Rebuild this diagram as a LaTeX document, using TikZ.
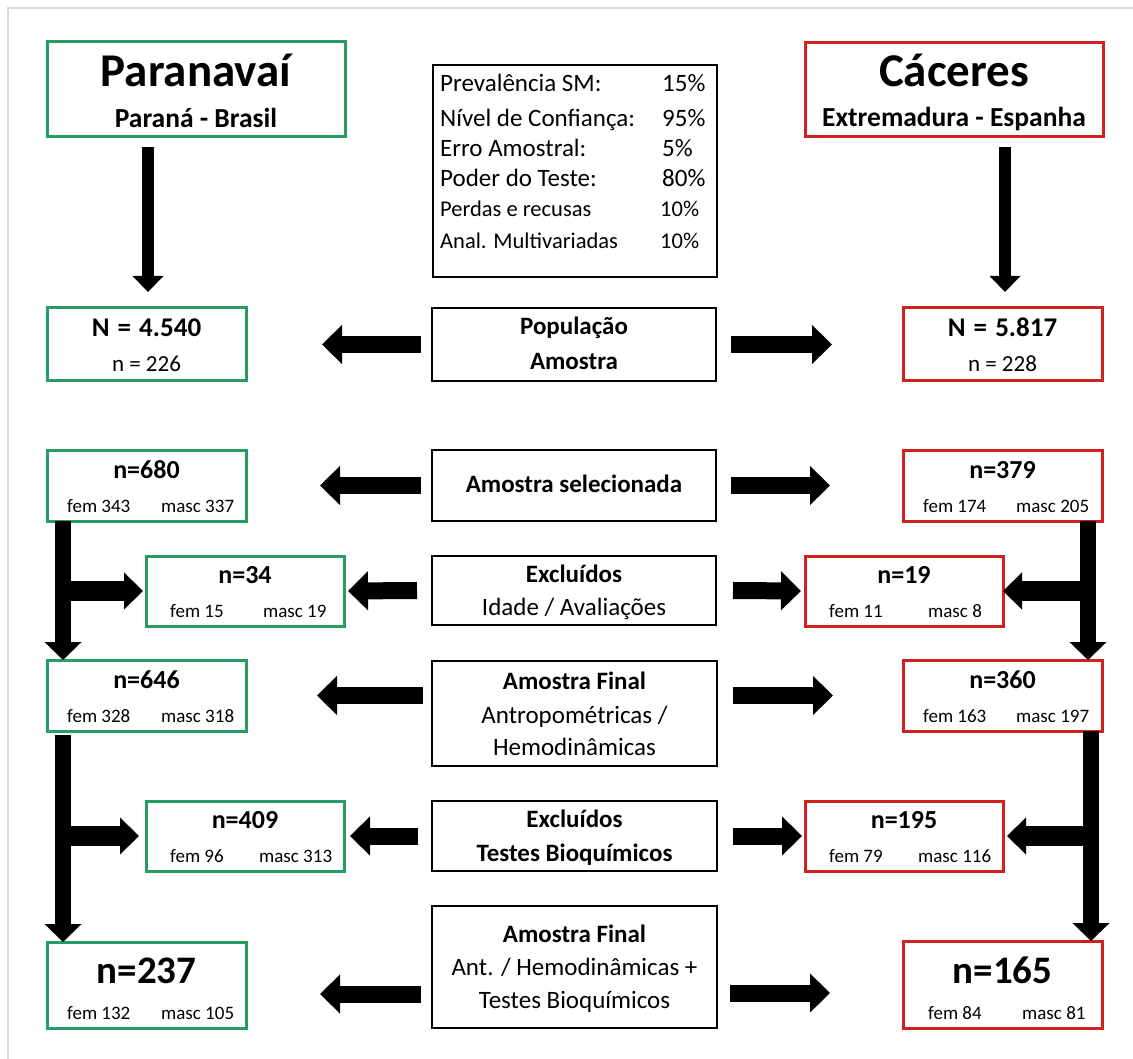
\documentclass[tikz,border=0pt]{standalone}
\usepackage{fontspec}
\setmainfont{Carlito}
\usetikzlibrary{arrows.meta}
\definecolor{grn}{RGB}{36,158,98}
\definecolor{rd}{RGB}{208,32,32}
\newcommand\mybox[6]{\node[#1, minimum width={#4-#2}, minimum height={#5-#3}] (#6) at ({(#2+#4)/2},{(#3+#5)/2}) {};}
\newcommand\wsp{\hspace{0.3em}}
\begin{document}
\begin{tikzpicture}[x=1pt,y=-1pt,
  gbox/.style={draw=grn, line width=3pt, inner sep=0pt, outer sep=0pt},
  rbox/.style={draw=rd, line width=3pt, inner sep=0pt, outer sep=0pt},
  kbox/.style={draw=black, line width=2.5pt, inner sep=0pt, outer sep=0pt},
  txt/.style={inner sep=0pt, anchor=base},
  tbig/.style={txt, font=\bfseries\fontsize{47}{52}\selectfont},
  tsub/.style={txt, font=\bfseries\fontsize{27.5}{31}\selectfont},
  tnum/.style={txt, font=\bfseries\fontsize{26}{30}\selectfont},
  tbign/.style={txt, font=\bfseries\fontsize{27}{30}\selectfont},
  thuge/.style={txt, font=\bfseries\fontsize{39}{44}\selectfont},
  tnreg/.style={txt, font=\fontsize{23}{26}\selectfont},
  tsm/.style={txt, anchor=base west, font=\fontsize{19}{22}\selectfont},
  tmid/.style={txt, font=\fontsize{25}{28}\selectfont},
  tmidb/.style={txt, font=\bfseries\fontsize{25}{28}\selectfont},
  tpar/.style={txt, anchor=base west, font=\fontsize{25}{28}\selectfont},
  tpars/.style={txt, anchor=base west, font=\fontsize{22.5}{26}\selectfont},
  harr/.style={line width=17pt, -{Triangle[width=38pt,length=20pt]}},
  vtop/.style={line width=12pt, -{Triangle[width=30pt,length=16pt]}},
  trunk/.style={line width=16pt, -{Triangle[width=36pt,length=18pt]}},
  branch/.style={line width=20pt, -{Triangle[width=36pt,length=19pt]}}
]
\useasboundingbox (0,0) rectangle (1133,1059);
\fill[white] (0,0) rectangle (1133,1059);
\draw[gray!30, line width=1.5pt] (8,1059) -- (8,8) -- (1133,8);

% ---------- boxes ----------
\mybox{gbox}{47}{42}{345}{137}{par}
\mybox{rbox}{805}{43}{1103}{137}{cac}
\mybox{kbox}{433}{65}{717}{277}{param}
\mybox{gbox}{47}{308}{246}{381}{N1}
\mybox{kbox}{432}{308}{716}{381}{pop}
\mybox{rbox}{903}{308}{1102}{381}{N2}
\mybox{gbox}{47}{450}{246}{521}{s1}
\mybox{kbox}{432}{450}{716}{521}{sel}
\mybox{rbox}{903}{450}{1102}{521}{s2}
\mybox{gbox}{146}{556}{344}{626}{e1}
\mybox{kbox}{432}{556}{716}{625}{exc}
\mybox{rbox}{805}{556}{1003}{626}{e2}
\mybox{gbox}{47}{660}{246}{731}{f1}
\mybox{kbox}{432}{661}{717}{766}{fin}
\mybox{rbox}{903}{660}{1102}{731}{f2}
\mybox{gbox}{146}{801}{344}{871}{g1}
\mybox{kbox}{432}{801}{717}{871}{exb}
\mybox{rbox}{805}{801}{1003}{871}{g2}
\mybox{gbox}{47}{942}{246}{1028}{h1}
\mybox{kbox}{432}{906}{717}{1028}{fin2}
\mybox{rbox}{903}{941}{1102}{1028}{h2}

% ---------- texts ----------
\node[tbig] (parT) at (196,87) {Paranavaí};
\node[tsub] (parS) at (196,128) {Paraná - Brasil};
\node[tbig] (cacT) at (954,87) {Cáceres};
\node[tsub] (cacS) at (954,127) {Extremadura - Espanha};

\node[tpar] (p1) at (440,92) {Prevalência SM:};
\node[tpar] (p2) at (440,127) {Nível de Confiança:};
\node[tpar] (p3) at (440,157) {Erro Amostral:};
\node[tpar] (p4) at (440,187) {Poder do Teste:};
\node[tpars] (p5) at (440,217) {Perdas e recusas};
\node[tpars] (p6) at (440,249) {Anal. Multivariadas};
\node[tpar] (v1) at (662,92) {15\%};
\node[tpar] (v2) at (662,127) {95\%};
\node[tpar] (v3) at (662,157) {5\%};
\node[tpar] (v4) at (662,187) {80\%};
\node[tpars] (v5) at (660,217) {10\%};
\node[tpars] (v6) at (660,249) {10\%};

\node[tbign] (N1a) at (146.5,337) {N\wsp=\wsp4.540};
\node[tnreg] (N1b) at (146.5,372) {n = 226};
\node[tbign] (N2a) at (1002.5,337) {N\wsp=\wsp5.817};
\node[tnreg] (N2b) at (1002.5,372) {n = 228};
\node[tmidb] (popa) at (574,335) {População};
\node[tmidb] (popb) at (574,370) {Amostra};

\node[tnum] (s1a) at (146.5,478) {n=680};
\node[tsm] (s1f) at (67,512) {fem 343};
\node[tsm] (s1m) at (161,512) {masc 337};
\node[tmidb] (sela) at (574,492) {Amostra selecionada};
\node[tnum] (s2a) at (1002.5,478) {n=379};
\node[tsm] (s2f) at (923,512) {fem 174};
\node[tsm] (s2m) at (1016,512) {masc 205};

\node[tnum] (e1a) at (245,583) {n=34};
\node[tsm] (e1f) at (170,617) {fem 15};
\node[tsm] (e1m) at (263,617) {masc 19};
\node[tmidb] (exca) at (574,582) {Excluídos};
\node[tmid] (excb) at (574,615) {Idade / Avaliações};
\node[tnum] (e2a) at (904,583) {n=19};
\node[tsm] (e2f) at (829,617) {fem 11};
\node[tsm] (e2m) at (928,617) {masc 8};

\node[tnum] (f1a) at (146.5,688) {n=646};
\node[tsm] (f1f) at (67,722) {fem 328};
\node[tsm] (f1m) at (161,722) {masc 318};
\node[tmidb] (fina) at (574.5,689) {Amostra Final};
\node[tmid] (finb) at (574.5,723) {Antropométricas /};
\node[tmid] (finc) at (574.5,755) {Hemodinâmicas};
\node[tnum] (f2a) at (1002.5,688) {n=360};
\node[tsm] (f2f) at (923,722) {fem 163};
\node[tsm] (f2m) at (1016,722) {masc 197};

\node[tnum] (g1a) at (245,828) {n=409};
\node[tsm] (g1f) at (170,862) {fem 96};
\node[tsm] (g1m) at (259,862) {masc 313};
\node[tmidb] (exba) at (574.5,827) {Excluídos};
\node[tmidb] (exbb) at (574.5,861) {Testes Bioquímicos};
\node[tnum] (g2a) at (904,828) {n=195};
\node[tsm] (g2f) at (829,862) {fem 79};
\node[tsm] (g2m) at (918,862) {masc 116};

\node[thuge] (h1a) at (146.5,983) {n=237};
\node[tsm] (h1f) at (67,1019) {fem 132};
\node[tsm] (h1m) at (161,1019) {masc 105};
\node[tmidb] (fin2a) at (574.5,942) {Amostra Final};
\node[tmid] (fin2b) at (574.5,975) {Ant. / Hemodinâmicas +};
\node[tmid] (fin2c) at (574.5,1008) {Testes Bioquímicos};
\node[thuge] (h2a) at (1002.5,983) {n=165};
\node[tsm] (h2f) at (928,1019) {fem 84};
\node[tsm] (h2m) at (1022,1019) {masc 81};

% ---------- arrows ----------
\draw[vtop] ([xshift=-48pt,yshift=-10pt]par.south) -- ([xshift=1.5pt,yshift=16pt]N1.north);
\draw[vtop] ([xshift=51pt,yshift=-10pt]cac.south) -- ([xshift=2.5pt,yshift=16pt]N2.north);

\draw[harr] ([xshift=-11pt]pop.west) -- ([xshift=76pt]N1.east);
\draw[harr] ([xshift=15pt]pop.east) -- ([xshift=-71pt]N2.west);
\draw[harr] ([xshift=-11pt]sel.west) -- ([xshift=74pt]s1.east);
\draw[harr] ([xshift=15pt]sel.east) -- ([xshift=-73pt]s2.west);
\draw[harr] ([xshift=-15pt]exc.west) -- ([xshift=4pt]e1.east);
\draw[harr] ([xshift=17pt]exc.east) -- ([xshift=-4pt]e2.west);
\coordinate (finL) at ([xshift=-9pt]fin.west);
\coordinate (finR) at ([xshift=16pt]fin.east);
\draw[harr] (finL |- f1.east) -- ([xshift=71pt]f1.east);
\draw[harr] (finR |- f2.west) -- ([xshift=-70pt]f2.west);
\draw[harr] ([xshift=-14pt]exb.west) -- ([xshift=6pt]g1.east);
\draw[harr] ([xshift=16pt]exb.east) -- ([xshift=-3pt]g2.west);
\coordinate (fin2L) at (421,994);
\coordinate (h1R) at (320,994);
\coordinate (fin2R) at (730,993);
\coordinate (h2L) at (830,993);
\draw[harr] (fin2L) -- (h1R);
\draw[harr] (fin2R) -- (h2L);

% trunks
\coordinate (lt1) at ([xshift=16pt]s1.south west);
\coordinate (lt2) at ([xshift=16pt,yshift=-4pt]f1.south west);
\coordinate (rt1) at ([xshift=-14pt]s2.south east);
\coordinate (rt2) at ([xshift=-11pt]f2.south east);
\draw[trunk] (lt1) -- (lt1 |- f1.north);
\draw[branch] (lt1 |- e1.west) -- ([xshift=-3pt]e1.west);
\draw[trunk] (lt2) -- (lt2 |- h1.north);
\draw[branch] (lt2 |- g1.west) -- ([xshift=-7pt]g1.west);
\draw[trunk] (rt1) -- (rt1 |- f2.north);
\draw[branch] (rt1 |- e2.east) -- (e2.east);
\draw[trunk] (rt2) -- (rt2 |- h2.north);
\draw[branch] (rt2 |- g2.east) -- ([xshift=4pt]g2.east);
\end{tikzpicture}
\end{document}
